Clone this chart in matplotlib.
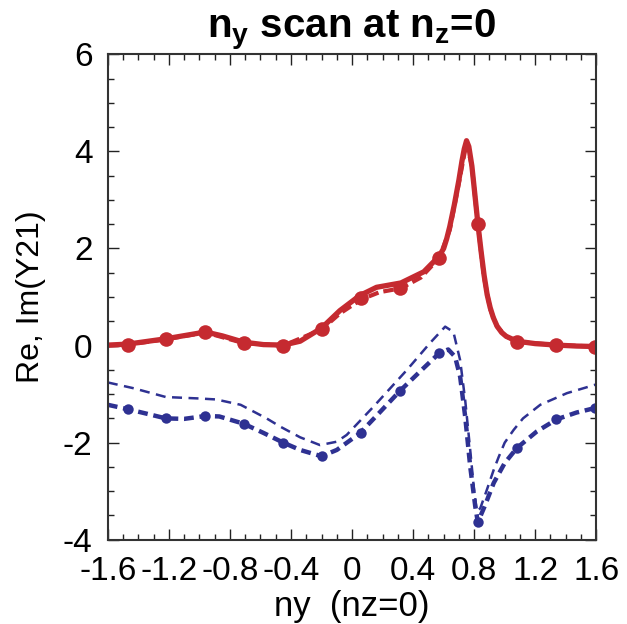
import numpy as np
import matplotlib
matplotlib.use("Agg")
import matplotlib.pyplot as plt
from matplotlib.ticker import MultipleLocator

plt.rcParams['font.family'] = ['Liberation Sans', 'DejaVu Sans']
plt.rcParams['mathtext.fontset'] = 'custom'
plt.rcParams['mathtext.rm'] = 'Liberation Sans'
plt.rcParams['mathtext.bf'] = 'Liberation Sans:bold'
plt.rcParams['axes.unicode_minus'] = False

RED = '#c52a30'
BLUE = '#2e3192'

# Re(Y21), solid red line
ny_re = [-1.6, -1.47, -1.22, -0.96, -0.85, -0.71, -0.58, -0.45, -0.34, -0.2,
         -0.08, 0.05, 0.16, 0.32, 0.47, 0.57, 0.60, 0.62, 0.64, 0.67,
         0.70, 0.72, 0.735, 0.75, 0.765, 0.785, 0.805, 0.824, 0.845, 0.865,
         0.885, 0.905, 0.925, 0.95, 0.98, 1.01, 1.08, 1.2, 1.34, 1.47, 1.6]
re_solid = [0.01, 0.03, 0.14, 0.28, 0.20, 0.07, 0.02, 0.01, 0.09, 0.36,
            0.72, 1.03, 1.20, 1.29, 1.52, 1.84, 2.0, 2.2, 2.45, 2.9,
            3.41, 3.8, 4.05, 4.22, 4.10, 3.70, 3.10, 2.52, 1.95, 1.45,
            1.05, 0.78, 0.58, 0.40, 0.27, 0.19, 0.09, 0.04, 0.01, -0.01, -0.02]

# Re(Y21), red dashed line under the solid one
ny_re2 = [-1.6, -1.47, -1.22, -0.96, -0.71, -0.45, -0.2, -0.08, 0.06, 0.18,
          0.32, 0.45, 0.57, 0.64, 0.70, 0.75, 0.785, 0.824, 0.865, 0.905,
          0.95, 1.01, 1.08, 1.34, 1.6]
re_dash = [0.0, 0.02, 0.13, 0.27, 0.05, 0.0, 0.33, 0.66, 0.95, 1.10,
           1.18, 1.40, 1.80, 2.38, 3.35, 4.18, 3.70, 2.50, 1.40, 0.75,
           0.39, 0.19, 0.08, 0.01, -0.02]

# Im(Y21), thick blue dashed line
ny_im = [-1.6, -1.47, -1.35, -1.22, -1.1, -0.96, -0.87, -0.71, -0.58, -0.45,
         -0.34, -0.2, -0.1, 0.05, 0.18, 0.315, 0.45, 0.57, 0.63, 0.675,
         0.708, 0.741, 0.774, 0.807, 0.824, 0.87, 0.928, 1.0, 1.08, 1.21,
         1.34, 1.47, 1.6]
im_thick = [-1.22, -1.31, -1.40, -1.50, -1.51, -1.45, -1.46, -1.61, -1.80, -2.0,
            -2.15, -2.28, -2.15, -1.81, -1.38, -0.93, -0.52, -0.16, -0.08, -0.23,
            -0.64, -1.46, -2.49, -3.31, -3.64, -3.30, -2.83, -2.42, -2.11, -1.77,
            -1.52, -1.38, -1.28]

# Im(Y21), thin blue dashed line
ny_im2 = [-1.6, -1.43, -1.22, -1.0, -0.89, -0.73, -0.56, -0.47, -0.34, -0.21,
          -0.1, -0.035, 0.14, 0.36, 0.51, 0.61, 0.664, 0.708, 0.741, 0.774,
          0.80, 0.818, 0.84, 0.88, 0.928, 0.96, 1.0, 1.058, 1.12, 1.233,
          1.408, 1.6]
im_thin = [-0.76, -0.88, -1.06, -1.09, -1.11, -1.22, -1.50, -1.67, -1.89, -2.05,
           -1.98, -1.84, -1.26, -0.50, 0.05, 0.39, 0.28, -0.30, -1.12, -2.15,
           -3.0, -3.42, -3.35, -3.0, -2.56, -2.3, -2.0, -1.74, -1.5, -1.22,
           -0.98, -0.80]

# sample points (markers)
ny_mark = [-1.471, -1.220, -0.964, -0.708, -0.450, -0.195, 0.061, 0.315,
           0.570, 0.824, 1.080, 1.336, 1.593]
re_mark = [0.02, 0.13, 0.27, 0.06, 0.0, 0.34, 0.97, 1.18, 1.81, 2.50, 0.08, 0.01, -0.02]
im_mark = [-1.31, -1.50, -1.45, -1.61, -2.00, -2.28, -1.80, -0.93, -0.16, -3.64,
           -2.11, -1.52, -1.29]

xticks = [-1.6, -1.2, -0.8, -0.4, 0, 0.4, 0.8, 1.2, 1.6]
xtick_labels = ['-1.6', '-1.2', '-0.8', '-0.4', '0', '0.4', '0.8', '1.2', '1.6']
yticks = [-4, -2, 0, 2, 4, 6]

fig = plt.figure(figsize=(6.27, 6.24), dpi=100)
ax = fig.add_axes([0.172, 0.135, 0.779, 0.778])

ax.plot(ny_im2, im_thin, color=BLUE, lw=1.8, dashes=(4, 2.6))
ax.plot(ny_im, im_thick, color=BLUE, lw=3.2, dashes=(2.2, 1.3))
ax.plot(ny_mark, im_mark, 'o', color=BLUE, ms=7.5, mec='none')
ax.plot(ny_re2, re_dash, color=RED, lw=3, dashes=(2.5, 1.2))
ax.plot(ny_re, re_solid, color=RED, lw=3.8, solid_joinstyle='round')
ax.plot(ny_mark, re_mark, 'o', color=RED, ms=10.5, mec='none')

ax.set_xlim(-1.6, 1.6)
ax.set_ylim(-4, 6)
ax.set_xticks(xticks)
ax.set_xticklabels(xtick_labels)
ax.set_yticks(yticks)
ax.xaxis.set_minor_locator(MultipleLocator(0.1))
ax.yaxis.set_minor_locator(MultipleLocator(0.5))
ax.tick_params(which='both', direction='in', top=True, right=True,
               labelsize=24, width=1.0, color='#222222')
ax.tick_params(axis='x', pad=12)
ax.tick_params(axis='y', pad=11)
ax.tick_params(which='major', length=8)
ax.tick_params(which='minor', length=4)
for s in ax.spines.values():
    s.set_linewidth(1.5)
    s.set_color('#333333')

ax.set_xlabel('ny  (nz=0)', fontsize=25, labelpad=2)
ax.set_ylabel('Re, Im(Y21)', fontsize=23, labelpad=12)
ax.set_title(r'$\mathbf{n_y}$ scan at $\mathbf{n_z}$=0', fontsize=29,
             fontweight='bold', pad=12)

fig.savefig('out.png', dpi=100)
